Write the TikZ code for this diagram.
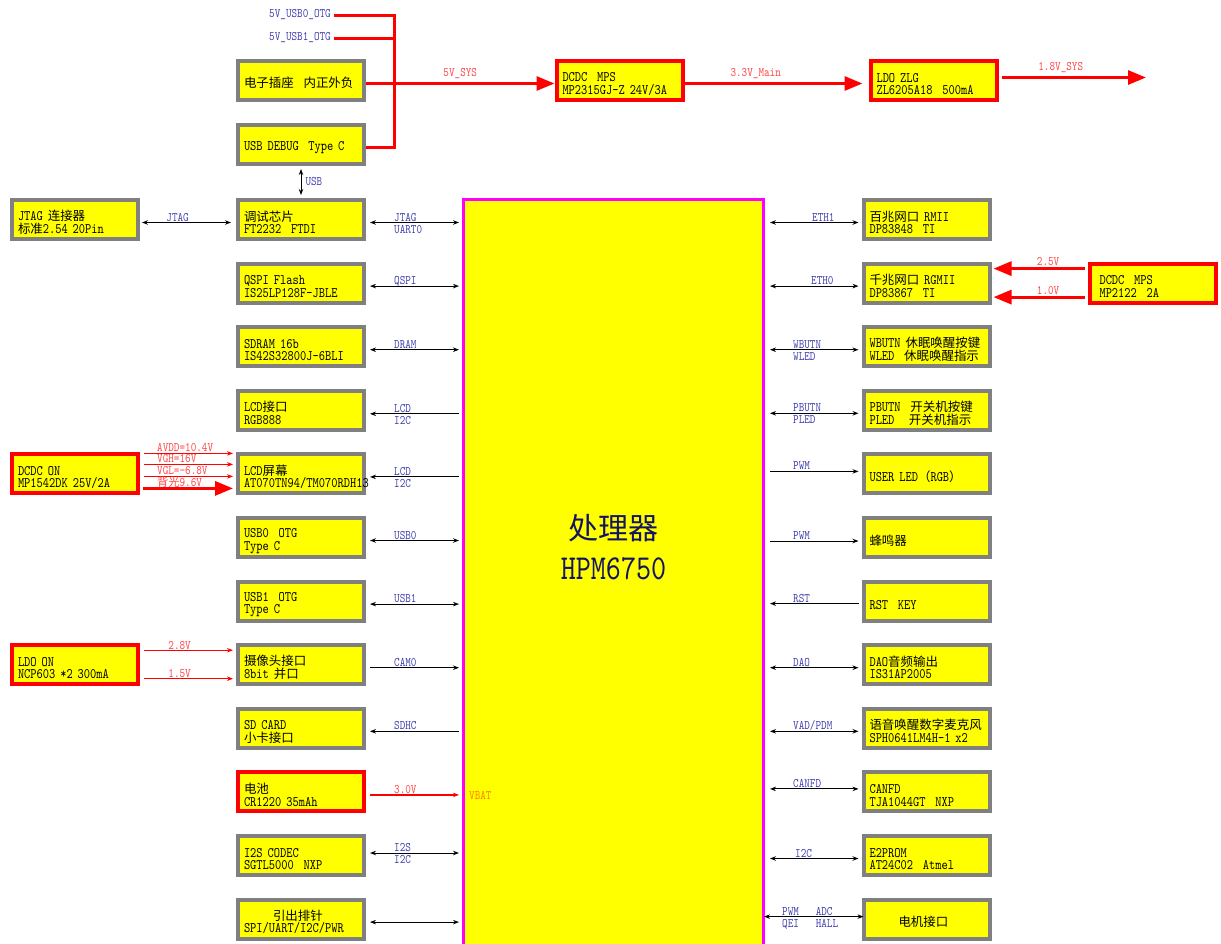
\documentclass[tikz,border=0pt]{standalone}
\usepackage{fontspec}
\newfontfamily\cjk[Scale=0.86]{Noto Sans CJK SC}
\newfontfamily\monof[FakeStretch=0.82]{lmmono10-regular.otf}
\usetikzlibrary{arrows.meta,positioning,calc}
\definecolor{boxyellow}{RGB}{255,255,0}
\definecolor{boxgray}{RGB}{128,128,128}
\definecolor{lblblue}{RGB}{64,64,176}
\definecolor{lblred}{RGB}{255,70,70}
\definecolor{cpuedge}{RGB}{255,0,255}
\definecolor{vbatorange}{RGB}{255,130,0}
\definecolor{cpublue}{RGB}{20,20,100}

\begin{document}
\begin{tikzpicture}[x=1pt, y=-1pt,
  >={Stealth[length=6pt,width=4.5pt]},
  blk/.style={rectangle, draw=boxgray, line width=4pt, fill=boxyellow,
    minimum width=126pt, minimum height=39pt, text width=114pt,
    inner xsep=6pt, inner ysep=0pt, align=left,
    font=\fontsize{14.5}{12.5}\monof, execute at begin node=\rule{0pt}{16pt}},
  pwr/.style={blk, draw=red},
  cpubox/.style={rectangle, draw=cpuedge, line width=3pt, fill=boxyellow,
    minimum width=300pt, minimum height=760pt},
  bus/.style={line width=1pt},
  rbus/.style={line width=1.2pt, red},
  pline/.style={line width=3pt, red},
  bigtip/.style={-{Triangle[length=18pt,width=14pt]}},
  lbl/.style={inner sep=0pt, text=lblblue, font=\fontsize{13}{13}\monof},
  rlbl/.style={lbl, text=lblred},
  node distance=20.6pt
]
\useasboundingbox (0,0) rectangle (1221,943);
\clip (0,0) rectangle (1221,943);

% processor
\node[cpubox, anchor=north] (cpu) at (613.5,198) {};
\node[font=\fontsize{35}{40}\monof, text=cpublue, align=center] (cpuname) at (613.5,547) {{\cjk 处理器}\\HPM6750};

% left column
\node[blk] (ft) at (301,219.5) {{\cjk 调试芯片}\\FT2232~~FTDI};
\node[blk, below=of ft] (qspi) {QSPI Flash\\IS25LP128F-JBLE};
\node[blk, below=of qspi] (sdram) {SDRAM 16b\\IS42S32800J-6BLI};
\node[blk, below=of sdram] (lcdif) {LCD{\cjk 接口}\\RGB888};
\node[blk, below=of lcdif] (lcd) {LCD{\cjk 屏幕}\\AT070TN94/TM070RDH13};
\node[blk, below=of lcd] (usb0) {USB0~~OTG\\Type C};
\node[blk, below=of usb0] (usb1) {USB1~~OTG\\Type C};
\node[blk, below=of usb1] (cam) {{\cjk 摄像头接口}\\8bit {\cjk 并口}};
\node[blk, below=of cam] (sd) {SD CARD\\{\cjk 小卡接口}};
\node[pwr, below=of sd] (bat) {{\cjk 电池}\\CR1220 35mAh};
\node[blk, below=of bat] (i2s) {I2S CODEC\\SGTL5000~~NXP};
\node[blk, below=of i2s] (hdr) {\hspace*{29pt}{\cjk 引出排针}\\SPI/UART/I2C/PWR};

% right column
\node[blk] (eth1) at (926.5,219.5) {{\cjk 百兆网口} RMII\\DP83848~~TI};
\node[blk, below=of eth1] (eth0) {{\cjk 千兆网口} RGMII\\DP83867~~TI};
\node[blk, below=of eth0] (wk) {WBUTN {\cjk 休眠唤醒按键}\\WLED~~{\cjk 休眠唤醒指示}};
\node[blk, below=of wk] (pw) {PBUTN~~{\cjk 开关机按键}\\PLED~~~{\cjk 开关机指示}};
\node[blk, below=of pw] (led) {USER LED{\cjk （}RGB{\cjk ）}};
\node[blk, below=of led] (buz) {{\cjk 蜂鸣器}};
\node[blk, below=of buz] (rst) {RST~~KEY};
\node[blk, below=of rst] (dao) {DAO{\cjk 音频输出}\\IS31AP2005};
\node[blk, below=of dao] (mic) {{\cjk 语音唤醒数字麦克风}\\SPH0641LM4H-1 x2};
\node[blk, below=of mic] (can) {CANFD\\TJA1044GT~~NXP};
\node[blk, below=of can] (eep) {E2PROM\\AT24C02~~Atmel};
\node[blk, below=of eep] (mot) {\hspace*{29pt}{\cjk 电机接口}};

% power and outer boxes
\node[blk, above=32pt of ft] (dbg) {USB DEBUG~~Type C};
\node[blk, above=21pt of dbg] (plug) {{\cjk 电子插座}~~{\cjk 内正外负}};
\node[pwr] (dcdc) at (619.5,80.5) {DCDC~~MPS\\MP2315GJ-Z 24V/3A};
\node[pwr, right=184pt of dcdc] (ldo) {LDO ZLG\\ZL6205A18~~500mA};
\node[blk, left=96pt of ft] (jtag) {JTAG {\cjk 连接器}\\{\cjk 标准}2.54 20Pin};
\node[pwr, left=96pt of lcd] (dcon) {DCDC ON\\MP1542DK 25V/2A};
\node[pwr, left=96pt of cam] (ldon) {LDO ON\\NCP603 *2 300mA};
\node[pwr, right=96pt of eth0] (mps) {\hspace*{4pt}DCDC~~MPS\\\hspace*{4pt}MP2122~~2A};

% 5V input rail
\node[lbl, anchor=east] (otg0) at (331,15) {5V\_USB0\_OTG};
\node[lbl, anchor=east] (otg1) at (331,38) {5V\_USB1\_OTG};
\coordinate (jn) at (394,83.5);
\draw[pline] ([xshift=3pt]otg0.east) -| (jn) |- ($(dbg.east)+(0,3)$);
\draw[pline] ([xshift=3pt]otg1.east) -- (otg1.east -| jn);
\draw[pline,bigtip] ($(plug.east)+(0,3)$) -- node[rlbl, anchor=base, yshift=7.5pt] (v5) {5V\_SYS} ($(dcdc.west)+(0,3)$);
\draw[pline,bigtip] ($(dcdc.east)+(0,3)$) -- node[rlbl, pos=0.4, anchor=base, yshift=7.5pt] (v33) {3.3V\_Main} ($(ldo.west)+(-6,3)$);
\coordinate (out18) at (1146,77.5);
\draw[pline,bigtip] ($(ldo.east)+(3,-3)$) -- node[rlbl, pos=0.41, anchor=base, yshift=7pt] (v18) {1.8V\_SYS} (out18);

% debug links
\draw[bus,<->] ($(jtag.east)+(2,3)$) -- node[lbl, pos=0.4, anchor=base, yshift=1.5pt] (ljtag) {JTAG} ($(ft.west)+(-5,3)$);
\draw[bus,<->] ($(dbg.south)+(0,3)$) -- node[lbl, right=4pt] (lusb) {USB} ($(ft.north)+(0,-3)$);

% left buses
\foreach \n/\tip/\dy/\t in {ft/<->/3/JTAG, qspi/<->/3/QSPI, sdram/<->/3/DRAM,
    lcdif/<-/3.5/LCD, lcd/<-/3/LCD, usb0/<->/3/USB0, usb1/<->/3/USB1,
    cam/->/3/CAM0, sd/<-/3/SDHC, i2s/<->/-2.5/I2S} {
  \draw[bus,\tip] ($(\n.east)+(4,\dy)$) -- ($(\n.east -| cpu.west)+(-3,\dy)$);
  \node[lbl, anchor=base west] (\n-a) at ($(\n.east)+(28,\dy-1.5)$) {\t};
}
\foreach \n/\dy/\t in {ft/3/UART0, lcdif/3.5/I2C, lcd/3/I2C, i2s/-2.5/I2C} {
  \node[lbl, anchor=base west] (\n-b) at ($(\n.east)+(28,\dy+10.5)$) {\t};
}
\draw[bus,<->] ($(hdr.east)+(4,3)$) -- ($(hdr.east -| cpu.west)+(-3,3)$);
\draw[rbus,->] ($(bat.east)+(4,3)$) -- ($(bat.east -| cpu.west)+(-3,3)$);
\node[rlbl, anchor=base west] (bat-a) at ($(bat.east)+(28,1.5)$) {3.0V};
\node[lbl, text=vbatorange, anchor=base west] (vbat) at ($(cpu.west |- bat.east)+(7,7.5)$) {VBAT};

% right buses
\foreach \n/\tip/\dy/\dx/\t in {eth1/<->/3/47/ETH1, eth0/<->/3/46/ETH0,
    wk/<->/3/28/WBUTN, pw/<->/3/28/PBUTN, led/->/-2.5/28/PWM, buz/->/3.5/28/PWM,
    rst/<-/2.5/28/RST, dao/<->/3/28/DAO, mic/<->/3/28/{VAD/PDM},
    can/<->/-3/28/CANFD, eep/<->/3/30/I2C} {
  \draw[bus,\tip] ($(cpu.east |- \n.west)+(5,\dy)$) -- ($(\n.west)+(-3,\dy)$);
  \node[lbl, anchor=base west] (\n-a) at ($(cpu.east |- \n.west)+(\dx,\dy-1.5)$) {\t};
}
\foreach \n/\t in {wk/WLED, pw/PLED} {
  \node[lbl, anchor=base west] (\n-b) at ($(cpu.east |- \n.west)+(28,13.5)$) {\t};
}
\draw[bus,<->] ($(cpu.east |- mot.west)+(-1,-2.5)$) -- ($(mot.west)+(2,-2.5)$);
\node[lbl, anchor=base west] (mot-a) at ($(cpu.east |- mot.west)+(17,-4)$) {PWM~~~ADC};
\node[lbl, anchor=base west] (mot-b) at ($(cpu.east |- mot.west)+(17,8.5)$) {QEI~~~HALL};

% LCD supplies
\foreach \dy/\v [count=\k] in {-20.5/{AVDD=10.4V}, -9.5/{VGH=16V}, 2.5/{VGL=-6.8V}} {
  \draw[rbus,->] ($(dcon.east)+(4,\dy)$) -- ($(lcd.west)+(-3,\dy)$);
  \node[rlbl, anchor=base west] (bl\k) at ($(dcon.east)+(17,\dy-2)$) {\v};
}
\draw[pline,bigtip] ($(dcon.east)+(3,14.5)$) -- ($(lcd.west)+(-3,14.5)$);
\node[rlbl, anchor=base west] (bl4) at ($(dcon.east)+(17,12.5)$) {{\cjk 背光}9.6V};

% camera supplies
\foreach \dy/\v [count=\k] in {-14.5/2.8V, 14/1.5V} {
  \draw[rbus,->] ($(ldon.east)+(4,\dy)$) -- node[rlbl, pos=0.4, anchor=base, yshift=1pt] (cl\k) {\v} ($(cam.west)+(-3,\dy)$);
}

% ethernet supplies
\foreach \dy/\v [count=\k] in {-14.5/2.5V, 14/1.0V} {
  \draw[pline,bigtip] ($(mps.west)+(-3,\dy)$) -- node[rlbl, pos=0.4, anchor=base, yshift=3pt] (el\k) {\v} ($(eth0.east)+(2,\dy)$);
}
\end{tikzpicture}
\end{document}
